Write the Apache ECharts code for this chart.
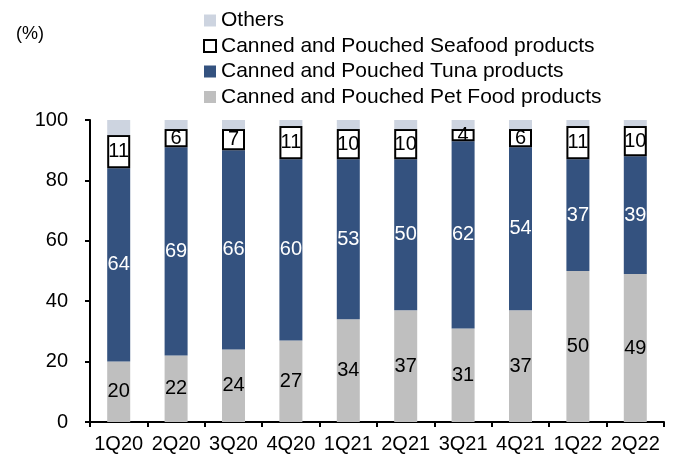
<!DOCTYPE html>
<html>
<head>
<meta charset="utf-8">
<script src="https://cdn.jsdelivr.net/npm/echarts@6/dist/echarts.min.js"></script>
<style>
html,body{margin:0;padding:0;background:#fff;}
#chart{width:675px;height:456px;}
</style>
</head>
<body>
<div id="chart"></div>
<script>
var categories = ['1Q20','2Q20','3Q20','4Q20','1Q21','2Q21','3Q21','4Q21','1Q22','2Q22'];
var petFood = [20,22,24,27,34,37,31,37,50,49];
var tuna = [64,69,66,60,53,50,62,54,37,39];
var seafood = [11,6,7,11,10,10,4,6,11,10];
var others = [5,3,3,2,3,3,3,3,2,2];
var yTicks = [0,20,40,60,80,100];

var FONT = 'Liberation Sans, Arial, sans-serif';
var chart = echarts.init(document.getElementById('chart'));
var lbl = function(color){
  return {show:true, position:'inside', color:color, fontSize:20, fontFamily:FONT};
};
chart.setOption({
  animation:false,
  textStyle:{fontFamily:FONT},
  title:{text:'(%)', left:11, top:20, textStyle:{fontSize:18, fontWeight:'normal', color:'#000', fontFamily:FONT}},
  legend:{
    orient:'vertical', left:198, top:5, itemWidth:12, itemHeight:12, itemGap:4.5, icon:'rect',
    textStyle:{fontSize:21, color:'#000', fontFamily:FONT, lineHeight:20},
    data:['Others','Canned and Pouched Seafood products','Canned and Pouched Tuna products','Canned and Pouched Pet Food products']
  },
  grid:{left:90, right:11, top:120, bottom:34},
  xAxis:{
    type:'category', data:categories,
    axisLine:{lineStyle:{color:'#000', width:2}},
    axisTick:{show:true, alignWithLabel:false, interval:0, length:5, lineStyle:{color:'#000', width:2}},
    axisLabel:{color:'#000', fontSize:20, margin:12, interval:0, fontFamily:FONT}
  },
  yAxis:{
    type:'value', min:yTicks[0], max:yTicks[yTicks.length-1], interval:20,
    splitLine:{show:false},
    axisLine:{show:true, lineStyle:{color:'#000', width:2}},
    axisTick:{show:true, length:5, lineStyle:{color:'#000', width:2}},
    axisLabel:{color:'#000', fontSize:20, margin:22, fontFamily:FONT}
  },
  series:[
    {name:'Canned and Pouched Pet Food products', type:'bar', stack:'s', barWidth:23, data:petFood,
     itemStyle:{color:'#bfbfbf'}, label:lbl('#000')},
    {name:'Canned and Pouched Tuna products', type:'bar', stack:'s', data:tuna,
     itemStyle:{color:'#34527f'}, label:lbl('#fff')},
    {name:'Canned and Pouched Seafood products', type:'bar', stack:'s', data:seafood,
     itemStyle:{color:'#fff', borderColor:'#000', borderWidth:2}, label:lbl('#000')},
    {name:'Others', type:'bar', stack:'s', data:others,
     itemStyle:{color:'#cdd4e0'}, label:{show:false}}
  ]
});
</script>
</body>
</html>
